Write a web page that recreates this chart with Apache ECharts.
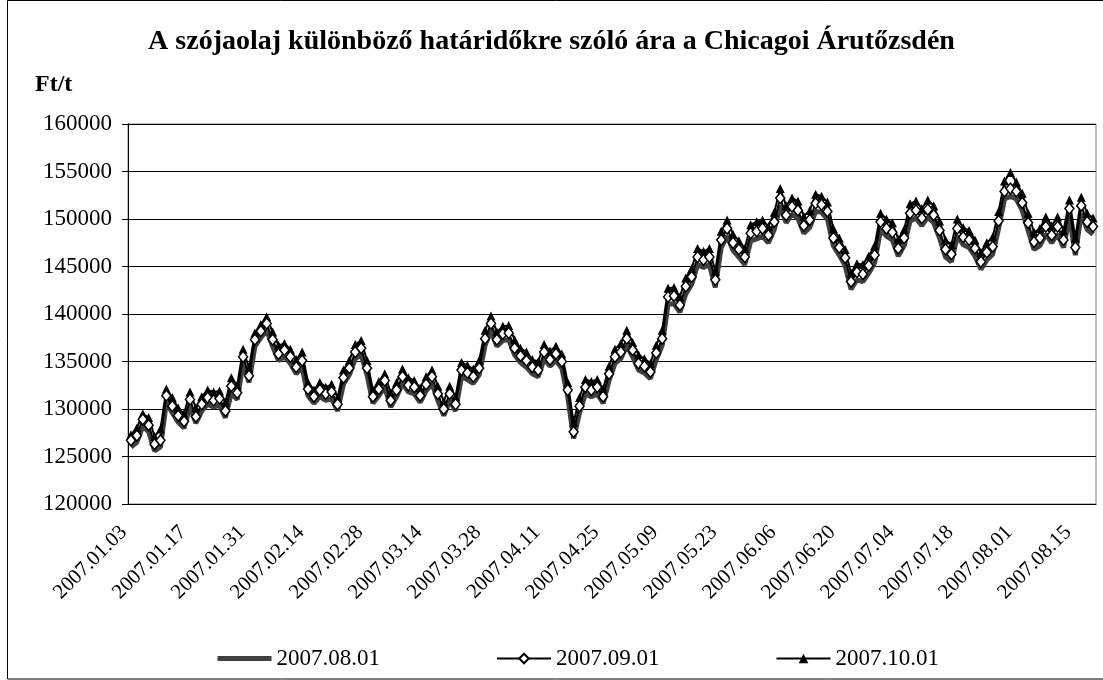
<!DOCTYPE html>
<html>
<head>
<meta charset="utf-8">
<title>Szójaolaj határidős árak</title>
<script src="https://cdn.jsdelivr.net/npm/echarts@6/dist/echarts.min.js"></script>
<style>
  html, body { margin: 0; padding: 0; background: #fff; }
  #chart { width: 1103px; height: 680px; }
</style>
</head>
<body>
<div id="chart"></div>
<script>
// kereskedési napok (hétköznapok) 2007.01.03-tól
const startDay = new Date(2007, 0, 3)
const dayCount = 164
const days = []
for (let d = new Date(startDay); days.length < dayCount; d.setDate(d.getDate() + 1)) {
  const wd = d.getDay()
  if (wd === 0 || wd === 6) continue
  const mm = String(d.getMonth() + 1).padStart(2, '0')
  const dd = String(d.getDate()).padStart(2, '0')
  days.push(d.getFullYear() + '.' + mm + '.' + dd)
}

const seriesNames = ['2007.08.01', '2007.09.01', '2007.10.01']

// Ft/t, leolvasva az ábráról
const aug = [
  126000, 126500, 128200, 127600, 125600, 126000, 130700, 129600, 128600, 128000,
  130300, 128500, 129800, 130500, 130200, 130400, 129100, 131700, 131000, 134800,
  132800, 136600, 137500, 138300, 136600, 135100, 135500, 134800, 133700, 134400,
  131400, 130600, 131300, 130900, 131100, 129800, 132600, 133600, 135300, 135700,
  133600, 130600, 131400, 132300, 130200, 131300, 132700, 131800, 131600, 130700,
  131900, 132700, 130900, 129300, 130900, 129800, 133400, 133100, 132700, 133600,
  136700, 138300, 136600, 137200, 137300, 135700, 134900, 134400, 133700, 133400,
  135300, 134500, 135100, 134300, 131300, 126900, 129600, 131600, 131300, 131600,
  130600, 133000, 134800, 135300, 136700, 135500, 134100, 133800, 133200, 135200,
  136700, 141000, 141100, 140200, 142100, 143100, 145200, 144900, 145200, 142800,
  147000, 148200, 146700, 146000, 145200, 147700, 147900, 148200, 147500, 148900,
  151400, 149600, 150500, 150100, 148500, 149100, 150800, 150700, 150000, 147200,
  146200, 145100, 142600, 143600, 143400, 144300, 145400, 148900, 148200, 147800,
  146100, 147200, 149800, 150100, 149300, 150200, 149600, 148000, 146000, 145500,
  148200, 147300, 147000, 146100, 144700, 145700, 146300, 149000, 152100, 152400,
  152100, 150900, 148800, 146800, 147200, 148400, 147500, 148400, 147000, 150300,
  146200, 150600, 148900, 148400
]
const sep = [
  126700, 127200, 128900, 128300, 126300, 126700, 131400, 130300, 129300, 128700,
  131000, 129200, 130500, 131200, 130900, 131100, 129800, 132400, 131700, 135500,
  133500, 137300, 138200, 139000, 137300, 135800, 136200, 135500, 134400, 135100,
  132100, 131300, 132000, 131600, 131800, 130500, 133300, 134300, 136000, 136400,
  134300, 131300, 132100, 133000, 130900, 132000, 133400, 132500, 132300, 131400,
  132600, 133400, 131600, 130000, 131600, 130500, 134100, 133800, 133400, 134300,
  137400, 139000, 137300, 137900, 138000, 136400, 135600, 135100, 134400, 134100,
  136000, 135200, 135800, 135000, 132000, 127600, 130300, 132300, 132000, 132300,
  131300, 133700, 135500, 136000, 137400, 136200, 134800, 134500, 133900, 135900,
  137400, 141800, 141900, 140950, 142900, 143900, 146000, 145700, 146000, 143600,
  147800, 149000, 147500, 146800, 146000, 148500, 148700, 149000, 148300, 149700,
  152200, 150400, 151300, 150900, 149300, 149900, 151650, 151500, 150800, 148000,
  147000, 145900, 143400, 144400, 144200, 145100, 146200, 149700, 149000, 148600,
  146900, 148000, 150600, 150900, 150100, 151000, 150400, 148800, 146800, 146300,
  149000, 148100, 147800, 146900, 145500, 146500, 147100, 149800, 152900, 153200,
  152900, 151700, 149600, 147600, 148000, 149200, 148300, 149200, 147800, 151100,
  147000, 151400, 149700, 149200
]
const oct = [
  127300, 128000, 129500, 129100, 127100, 127900, 132100, 131200, 130100, 129500,
  131800, 130100, 131300, 132000, 131800, 131900, 130700, 133300, 132500, 136300,
  134300, 138000, 138900, 139700, 138100, 136700, 136900, 136300, 135200, 136000,
  132800, 132000, 132800, 132300, 132600, 131200, 134100, 135100, 136800, 137200,
  135100, 132000, 132900, 133700, 131700, 132800, 134200, 133300, 133000, 132200,
  133400, 134100, 132400, 130800, 132400, 131300, 134900, 134600, 134200, 135100,
  138300, 139800, 138100, 138700, 138800, 137300, 136400, 136000, 135200, 135000,
  136800, 136100, 136600, 135800, 132800, 128600, 131200, 133100, 132900, 133100,
  132100, 134500, 136300, 136900, 138300, 137000, 135700, 135300, 134800, 136700,
  138300, 142700, 142800, 141800, 143800, 144800, 146900, 146600, 146900, 144500,
  148700, 149900, 148400, 147700, 146900, 149400, 149700, 149900, 149200, 150700,
  153200, 151400, 152200, 151900, 150300, 150900, 152600, 152400, 151800, 149000,
  148000, 146800, 144300, 145300, 145200, 146100, 147200, 150600, 150000, 149600,
  147900, 148900, 151600, 151900, 151100, 152000, 151400, 149800, 147800, 147300,
  150000, 149100, 148800, 147800, 146500, 147500, 148100, 150800, 154000, 154900,
  153900, 152700, 150600, 148600, 149000, 150200, 149300, 150200, 148800, 152000,
  148000, 152300, 150600, 150100
]

const serif = 'Liberation Serif, Times New Roman, serif'

const chart = echarts.init(document.getElementById('chart'), null, { renderer: 'canvas' })

chart.setOption({
  animation: false,
  backgroundColor: '#fff',
  title: {
    text: 'A szójaolaj különböző határidőkre szóló ára a Chicagoi Árutőzsdén',
    left: 'center',
    top: 23,
    textStyle: { fontFamily: serif, fontSize: 28, fontWeight: 'bold', color: '#000' }
  },
  graphic: [
    {
      type: 'rect',
      shape: { x: 7.5, y: 0.5, width: 1110, height: 678.5 },
      style: { fill: 'none', stroke: '#000', lineWidth: 1 },
      silent: true
    },
    {
      type: 'text',
      left: 35,
      top: 73,
      style: { text: 'Ft/t', font: 'bold 24px ' + serif, fill: '#000' }
    }
  ],
  legend: {
    data: [
      { name: seriesNames[0], itemStyle: { opacity: 0 }, lineStyle: { color: '#404040', width: 5 } },
      { name: seriesNames[1] },
      { name: seriesNames[2] }
    ],
    left: 210,
    top: 642,
    itemWidth: 54,
    itemHeight: 12,
    itemGap: 116,
    textStyle: { fontFamily: serif, fontSize: 23, color: '#000' }
  },
  grid: {
    left: 128,
    right: 7,
    top: 124,
    bottom: 176,
    show: true,
    borderColor: '#808080',
    borderWidth: 1
  },
  xAxis: {
    type: 'category',
    data: days,
    boundaryGap: true,
    axisLine: { lineStyle: { color: '#000', width: 1 } },
    axisTick: { interval: 9, length: 6, lineStyle: { color: '#000' } },
    axisLabel: {
      interval: 9,
      rotate: 45,
      margin: 18,
      padding: [0, 10, 0, 0],
      fontFamily: serif,
      fontSize: 21,
      color: '#000'
    },
    splitLine: { show: false }
  },
  yAxis: {
    type: 'value',
    min: 120000,
    max: 160000,
    interval: 5000,
    axisLine: { show: true, lineStyle: { color: '#000', width: 1 } },
    axisTick: { show: true, length: 6, lineStyle: { color: '#000' } },
    axisLabel: {
      margin: 16,
      fontFamily: serif,
      fontSize: 23,
      color: '#000',
      formatter: v => String(v)
    },
    splitLine: { lineStyle: { color: '#000', width: 1 } }
  },
  series: [
    {
      name: seriesNames[0],
      type: 'line',
      data: aug,
      symbol: 'none',
      lineStyle: { color: '#404040', width: 5 },
      itemStyle: { color: '#404040' },
      emphasis: { disabled: true },
      z: 2
    },
    {
      name: seriesNames[1],
      type: 'line',
      data: sep,
      symbol: 'diamond',
      symbolSize: [9, 11],
      showAllSymbol: true,
      lineStyle: { color: '#000', width: 2 },
      itemStyle: { color: '#fff', borderColor: '#000', borderWidth: 1.5 },
      emphasis: { disabled: true },
      z: 4
    },
    {
      name: seriesNames[2],
      type: 'line',
      data: oct,
      symbol: 'triangle',
      symbolSize: [9, 9],
      showAllSymbol: true,
      lineStyle: { color: '#000', width: 2 },
      itemStyle: { color: '#000', borderColor: '#000', borderWidth: 0 },
      emphasis: { disabled: true },
      z: 3
    }
  ]
})

window.addEventListener('resize', () => {
  chart.resize()
})
</script>
</body>
</html>
